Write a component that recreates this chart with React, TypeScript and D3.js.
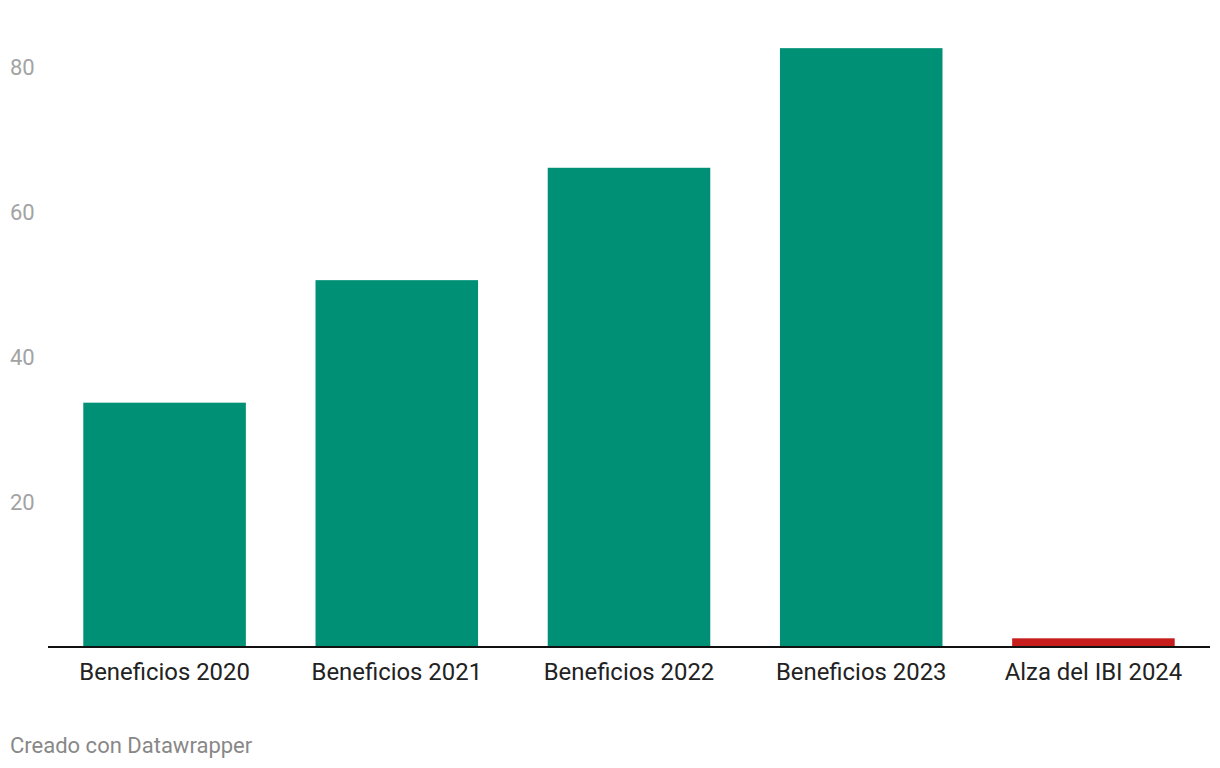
import React from "react";
import * as d3 from "d3";

const categories = ["Beneficios 2020", "Beneficios 2021", "Beneficios 2022", "Beneficios 2023", "Alza del IBI 2024"];
const values = [33.7, 50.6, 66.1, 82.6, 1.2];
const barColors = ["#009075", "#009075", "#009075", "#009075", "#c71e1d"];
const yTicks = [20, 40, 60, 80];

export default function App() {
  const W = 1220, H = 768;
  const x = d3.scaleBand<string>().domain(categories).range([48, 1210]).paddingInner(0.3).paddingOuter(0.152);
  const y = d3.scaleLinear().domain([0, 20]).range([647, 502]);
  return (
    <svg width={W} height={H} style={{ position: "absolute", left: 0, top: 0, fontFamily: "Roboto, sans-serif" }}>
      {yTicks.map((t) => (
        <text key={t} x={10} y={y(t)} dy="0.35em" fontSize={22} fill="#a3a3a3">{t}</text>
      ))}
      {categories.map((c, i) => (
        <rect key={c} x={x(c)} y={y(values[i])} width={x.bandwidth()} height={y(0) - y(values[i])} fill={barColors[i]} />
      ))}
      <line x1={48} x2={1210} y1={y(0)} y2={y(0)} stroke="#111" strokeWidth={2} />
      {categories.map((c) => (
        <text key={c} x={(x(c) as number) + x.bandwidth() / 2} y={672} dy="0.35em" textAnchor="middle" fontSize={23.9} fill="#222">{c}</text>
      ))}
      <text x={10} y={745} dy="0.35em" fontSize={22} fill="#888">Creado con Datawrapper</text>
    </svg>
  );
}
